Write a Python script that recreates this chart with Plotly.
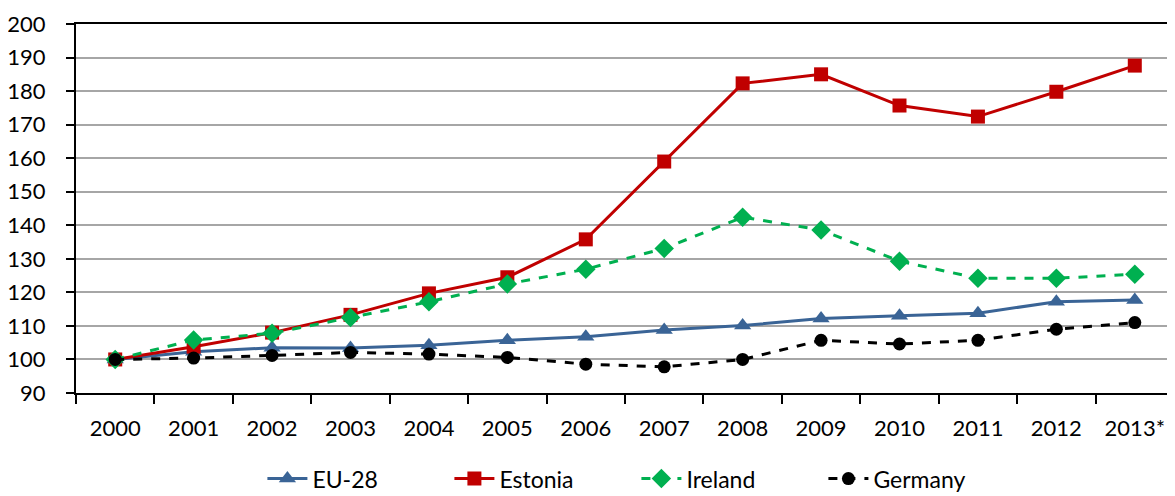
import plotly.graph_objects as go

years = ["2000", "2001", "2002", "2003", "2004", "2005", "2006", "2007",
         "2008", "2009", "2010", "2011", "2012", "2013*"]
eu28 = [100, 102.3, 103.5, 103.4, 104.2, 105.7, 106.8, 108.8, 110.1, 112.2, 113.0, 113.8, 117.2, 117.7]
estonia = [100, 103.8, 108.0, 113.3, 119.7, 124.5, 135.8, 159.0, 182.3, 185.0, 175.7, 172.4, 179.8, 187.6]
ireland = [100, 105.8, 107.8, 112.5, 117.2, 122.5, 126.9, 133.1, 142.4, 138.6, 129.3, 124.2, 124.2, 125.4]
germany = [100, 100.4, 101.2, 102.1, 101.6, 100.6, 98.6, 97.8, 100.0, 105.7, 104.6, 105.7, 109.0, 111.0]

fig = go.Figure()
fig.add_trace(go.Scatter(x=years, y=eu28, name="EU-28", mode="lines+markers",
                         line=dict(color="#3A6496", width=3),
                         marker=dict(symbol="triangle-up", size=15, color="#3A6496")))
fig.add_trace(go.Scatter(x=years, y=estonia, name="Estonia", mode="lines+markers",
                         line=dict(color="#C00000", width=3),
                         marker=dict(symbol="square", size=14, color="#C00000")))
fig.add_trace(go.Scatter(x=years, y=ireland, name="Ireland", mode="lines+markers",
                         line=dict(color="#00B050", width=3, dash="dash"),
                         marker=dict(symbol="diamond", size=15, color="#00B050")))
fig.add_trace(go.Scatter(x=years, y=germany, name="Germany", mode="lines+markers",
                         line=dict(color="black", width=3, dash="dash"),
                         marker=dict(symbol="circle", size=13, color="black")))

font = "Lato, 'Open Sans', sans-serif"
fig.update_layout(
    width=1167, height=488,
    margin=dict(l=68, r=1, t=16, b=103, autoexpand=False),
    paper_bgcolor="white", plot_bgcolor="white",
    font=dict(family=font, size=22, color="black"),
    legend=dict(orientation="h", xref="container", x=0.218, xanchor="left",
                yref="paper", y=-0.232, yanchor="middle",
                font=dict(size=23), itemwidth=40, entrywidth=132,
                tracegroupgap=0),
    showlegend=True,
)
fig.update_xaxes(type="category", range=[-0.5, 13.5], autorange=False,
                 showgrid=False, showline=True, linecolor="black",
                 linewidth=2, mirror=True, ticks="outside", tickson="boundaries",
                 ticklen=9, tickwidth=2, tickcolor="black", tickfont=dict(size=22),
                 ticklabelstandoff=15, automargin=False)
fig.update_yaxes(range=[90, 200], autorange=False, dtick=10, showgrid=True,
                 gridcolor="#A6A6A6", gridwidth=1.5, showline=True,
                 linecolor="black", linewidth=2, mirror=True, ticks="outside",
                 ticklen=8, tickwidth=2, tickcolor="black", tickfont=dict(size=22),
                 ticklabelstandoff=16, zeroline=False, automargin=False)

fig.write_html("out.html")
